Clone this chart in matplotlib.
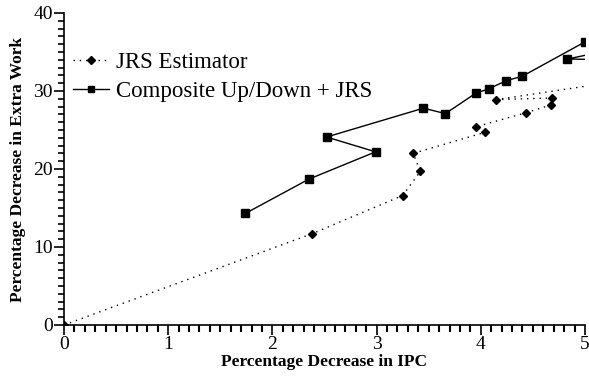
import matplotlib.pyplot as plt
import numpy as np
from matplotlib.ticker import MultipleLocator, AutoMinorLocator

# JRS Estimator (last point lies past the right edge and gets clipped)
jrs_ipc = [0.0, 2.38, 3.25, 3.42, 3.35, 4.04, 3.95, 4.43, 4.67, 4.68, 4.15, 5.6]
jrs_work = [0.0, 11.7, 16.6, 19.7, 22.0, 24.7, 25.4, 27.2, 28.2, 29.1, 28.9, 31.8]

# Composite Up/Down + JRS
comp_ipc = [1.74, 2.35, 2.99, 2.52, 3.45, 3.66, 3.95, 4.08, 4.24, 4.40, 5.0, 5.3, 4.83, 5.3]
comp_work = [14.3, 18.7, 22.2, 24.1, 27.8, 27.1, 29.7, 30.3, 31.3, 31.9, 36.3, 35.4, 34.1, 34.0]

plt.rcParams['font.family'] = ['Liberation Serif', 'DejaVu Serif']

fig = plt.figure(figsize=(5.89, 3.79), dpi=100)
ax = fig.add_axes([0.1087, 0.1425, 0.8845, 0.8232])

ax.plot(jrs_ipc, jrs_work, color='black', linestyle=(0, (1, 3.5)), linewidth=1,
        marker='D', markersize=4, label='JRS Estimator')
ax.plot(comp_ipc, comp_work, color='black', linestyle='-', linewidth=1,
        marker='s', markersize=5.5, label='Composite Up/Down + JRS')

ax.set_xlim(0, 5)
ax.set_ylim(0, 40)
ax.xaxis.set_major_locator(MultipleLocator(1))
ax.yaxis.set_major_locator(MultipleLocator(10))
ax.xaxis.set_minor_locator(AutoMinorLocator(10))
ax.yaxis.set_minor_locator(AutoMinorLocator(10))
ax.tick_params(axis='both', which='major', direction='out', length=7, width=1.2,
               labelsize=14, pad=1)
ax.tick_params(axis='y', which='minor', direction='out', length=4, width=1.2)
ax.tick_params(axis='x', which='minor', direction='out', length=5, width=1.5,
               bottom=True, color='black')

ax.spines['top'].set_visible(False)
ax.spines['right'].set_visible(False)
ax.spines['left'].set_linewidth(1.2)
ax.spines['bottom'].set_linewidth(1.2)

ax.set_xlabel('Percentage Decrease in IPC', fontsize=12.5, fontweight='bold', labelpad=1)
ax.set_ylabel('Percentage Decrease in Extra Work', fontsize=12.5, fontweight='bold', labelpad=5)

ax.legend(loc='upper left', bbox_to_anchor=(-0.01, 0.92), frameon=False, fontsize=16.5,
          handlelength=1.6, handletextpad=0.3, labelspacing=0.35, borderaxespad=0.2,
          markerscale=0.9)

plt.savefig('out.png', facecolor='white', transparent=False)
